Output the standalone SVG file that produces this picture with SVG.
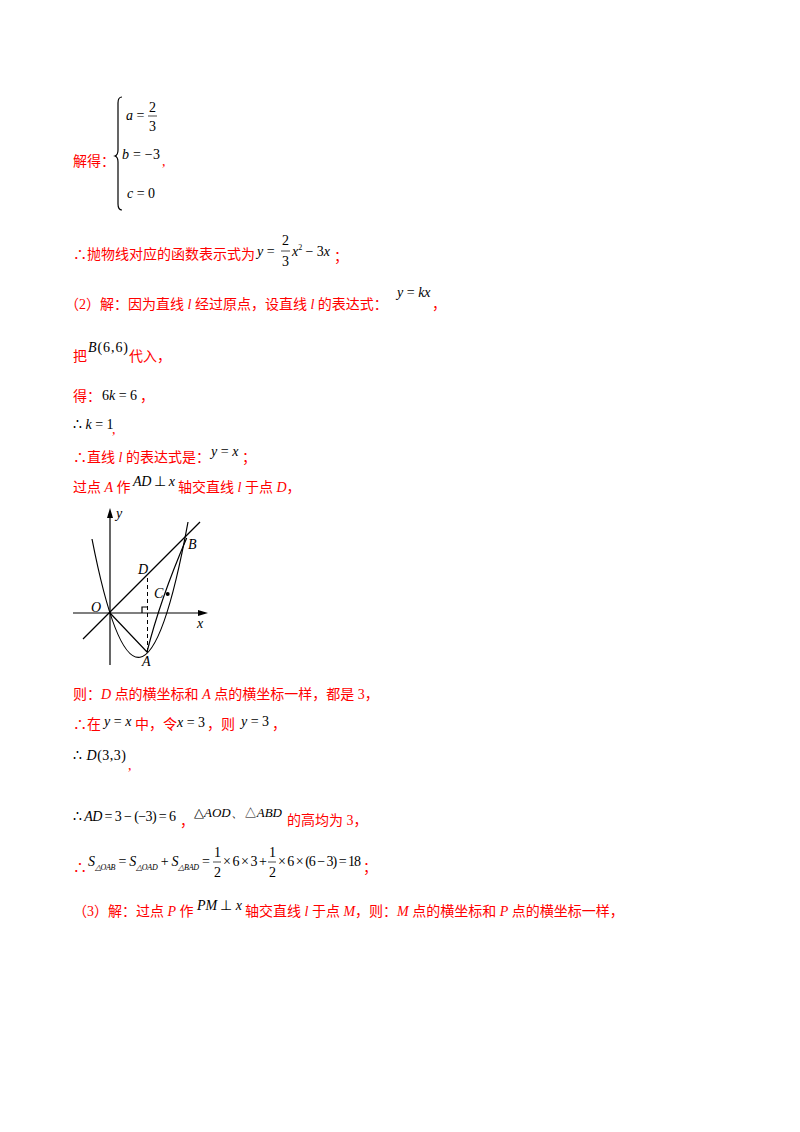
<svg xmlns="http://www.w3.org/2000/svg" width="800" height="1132" viewBox="0 0 800 1132">
<style>
.r{fill:#ff0000;font-family:"Liberation Serif","Noto Sans CJK SC",serif;font-size:14px}
.m{fill:#000;font-family:"Liberation Serif",serif;font-size:14px}
.i{font-style:italic}
.s{font-size:8px}
.g{stroke:#000;stroke-width:1.2;fill:none}
</style>
<rect width="800" height="1132" fill="#fff"/>
<g id="brace">
<path class="g" stroke-width="0.9" d="M122,97 Q118,97 118,103 L118,150 Q118,155 115,156 Q118,157 118,162 L118,204 Q118,210 122,210"/>
<text class="m" x="126" y="120"><tspan class="i">a</tspan> =</text>
<text class="m" x="149" y="112">2</text><line x1="148" y1="116" x2="157" y2="116" stroke="#000" stroke-width="0.7"/><text class="m" x="149" y="131">3</text>
<text class="r" x="73" y="166">解得：</text>
<text class="m" x="122" y="159" textLength="38"><tspan class="i">b</tspan> = −3</text><text class="r" x="162" y="166">,</text>
<text class="m" x="127" y="198"><tspan class="i">c</tspan> = 0</text>
</g>
<g id="text">
<text class="r" x="73" y="259">∴抛物线对应的函数表示式为</text>
<text class="m" x="257" y="256"><tspan class="i">y</tspan> =</text>
<text class="m" x="282" y="245">2</text><line x1="281" y1="251" x2="290" y2="251" stroke="#000" stroke-width="0.7"/><text class="m" x="282" y="266">3</text>
<text class="m" x="292" y="256" textLength="38"><tspan class="i">x</tspan><tspan class="s" dy="-6">2</tspan><tspan dy="6"> − 3</tspan><tspan class="i">x</tspan></text>
<text class="r" x="334" y="261">；</text>
<text class="r" x="65" y="309">（2）解：因为直线 <tspan class="i">l</tspan> 经过原点，设直线 <tspan class="i">l</tspan> 的表达式：</text>
<text class="m" x="397" y="297"><tspan class="i">y</tspan> = <tspan class="i">kx</tspan></text><text class="r" x="432" y="309">，</text>
<text class="r" x="73" y="361">把</text>
<text class="m" x="88" y="352" textLength="40"><tspan class="i">B</tspan>(6,6)</text>
<text class="r" x="129" y="361">代入，</text>
<text class="r" x="73" y="401">得：</text><text class="m" x="102" y="400"><tspan>6</tspan><tspan class="i">k</tspan> = 6</text><text class="r" x="140" y="401">，</text>
<text class="m" x="73" y="429">∴ <tspan class="i">k</tspan> = 1</text><text class="r" x="112" y="434">,</text>
<text class="r" x="73" y="462">∴直线 <tspan class="i">l</tspan> 的表达式是：</text>
<text class="m" x="211" y="456"><tspan class="i">y</tspan> = <tspan class="i">x</tspan></text><text class="r" x="242" y="462">；</text>
<text class="r" x="73" y="492">过点 <tspan class="i">A</tspan> 作</text>
<text class="m" x="133" y="486" textLength="42"><tspan class="i">AD</tspan> ⊥ <tspan class="i">x</tspan></text>
<text class="r" x="178" y="492">轴交直线 <tspan class="i">l</tspan> 于点 <tspan class="i">D</tspan>，</text>
<text class="r" x="73" y="699">则：<tspan class="i">D</tspan> 点的横坐标和 <tspan class="i">A</tspan> 点的横坐标一样，都是 3，</text>
<text class="r" x="73" y="729">∴在</text><text class="m" x="104" y="726"><tspan class="i">y</tspan> = <tspan class="i">x</tspan></text>
<text class="r" x="135" y="729">中，令</text><text class="m" x="177" y="727"><tspan class="i">x</tspan> = 3</text><text class="r" x="207" y="729">，则</text>
<text class="m" x="241" y="726"><tspan class="i">y</tspan> = 3</text><text class="r" x="272" y="729">，</text>
<text class="m" x="73" y="760" textLength="53">∴ <tspan class="i">D</tspan>(3,3)</text><text class="r" x="128" y="770">,</text>
<text class="m" x="73" y="821" textLength="103">∴ <tspan class="i">AD</tspan> = 3 − (−3) = 6</text><text class="r" x="180" y="826">，</text>
<text class="m" x="194" y="817" style="font-size:13px">△<tspan class="i">AOD</tspan>、△<tspan class="i">ABD</tspan></text>
<text class="r" x="287" y="825">的高均为 3，</text>
<text class="r" x="73" y="872">∴</text>
<text class="m" x="88" y="866" textLength="122"><tspan class="i">S</tspan><tspan class="s i" dy="4">△OAB</tspan><tspan dy="-4"> = </tspan><tspan class="i">S</tspan><tspan class="s i" dy="4">△OAD</tspan><tspan dy="-4"> + </tspan><tspan class="i">S</tspan><tspan class="s i" dy="4">△BAD</tspan><tspan dy="-4"> =</tspan></text>
<text class="m" x="214" y="857">1</text><line x1="213" y1="862" x2="221" y2="862" stroke="#000" stroke-width="0.7"/><text class="m" x="214" y="877">2</text>
<text class="m" x="223" y="866" textLength="44">× 6 × 3 +</text>
<text class="m" x="269" y="857">1</text><line x1="268" y1="862" x2="276" y2="862" stroke="#000" stroke-width="0.7"/><text class="m" x="269" y="877">2</text>
<text class="m" x="278" y="866" textLength="83">× 6 × (6 − 3) = 18</text>
<text class="r" x="363" y="872">；</text>
<text class="r" x="73" y="916">（3）解：过点 <tspan class="i">P</tspan> 作</text>
<text class="m" x="197" y="910" textLength="45"><tspan class="i">PM</tspan> ⊥ <tspan class="i">x</tspan></text>
<text class="r" x="245" y="916">轴交直线 <tspan class="i">l</tspan> 于点 <tspan class="i">M</tspan>，则：<tspan class="i">M</tspan> 点的横坐标和 <tspan class="i">P</tspan> 点的横坐标一样，</text>
</g>
<g id="graph">
<line class="g" x1="110" y1="665" x2="110" y2="512"/>
<path d="M110,508 L107,518 L113,518 Z"/>
<line class="g" x1="73" y1="613" x2="205" y2="613"/>
<path d="M208,613 L198,610 L198,616 Z"/>
<line class="g" x1="83" y1="639" x2="200" y2="522"/>
<path class="g" d="M92,539 Q140,784 188,522"/>
<path class="g" d="M110,613 L147,652 Q160,600 186.7,538"/>
<line x1="147.5" y1="578" x2="147.5" y2="652" stroke="#000" stroke-width="1" stroke-dasharray="4,3"/>
<path class="g" stroke-width="0.9" d="M142,613 L142,607 L147.5,607"/>
<circle cx="167.7" cy="594" r="2"/>
<text class="m i" x="116" y="518">y</text>
<text class="m i" x="91" y="612">O</text>
<text class="m i" x="138" y="574">D</text>
<text class="m i" x="154" y="598">C</text>
<text class="m i" x="188" y="549">B</text>
<text class="m i" x="197" y="628">x</text>
<text class="m i" x="142" y="666">A</text>
</g>
</svg>
